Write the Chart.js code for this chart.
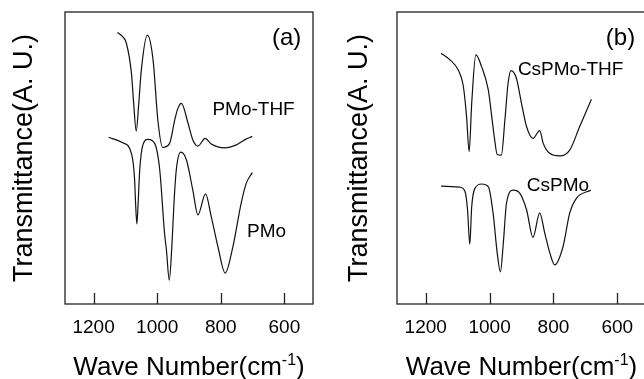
<!DOCTYPE html>
<html>
<head>
<meta charset="utf-8">
<script src="https://cdn.jsdelivr.net/npm/chart.js@4.4.1/dist/chart.umd.min.js"></script>
<style>
  html, body { margin: 0; padding: 0; background: #fff; overflow: hidden; }
  body { width: 644px; height: 379px; position: relative; }
  canvas { position: absolute; top: 0; }
</style>
</head>
<body>
<canvas id="panelA" width="330" height="379" style="left:0"></canvas>
<canvas id="panelB" width="330" height="379" style="left:330px"></canvas>
<script>
const waveTicks = [1200, 1000, 800, 600];

// (a) PMo-THF, upper trace
const pmoThfWave = [1125, 1108, 1097, 1081, 1074, 1066, 1058, 1050, 1031, 1013, 998, 983, 961, 945, 935, 924, 903, 888, 872, 849, 830, 788, 751, 725, 701];
const pmoThfT = [93.0, 91.5, 89.3, 79.0, 68.7, 59.2, 68.7, 80.1, 92.1, 83.6, 63.0, 53.6, 55.0, 63.0, 67.0, 68.7, 61.9, 56.2, 54.1, 56.7, 54.8, 53.5, 54.5, 56.2, 57.4];

// (a) PMo, lower trace
const pmoWave = [1153, 1108, 1081, 1071, 1068, 1064, 1060, 1055, 1045, 1029, 1008, 992, 977, 971, 962, 954, 947, 940, 926, 908, 888, 872, 848, 830, 809, 786, 762, 736, 720, 701];
const pmoT = [57.1, 55.2, 51.6, 42.5, 34.5, 27.4, 34.5, 45.9, 54.5, 56.4, 55.0, 45.9, 24.3, 18.5, 8.2, 19.6, 35.0, 45.9, 52.0, 49.3, 39.0, 30.5, 37.7, 29.9, 19.6, 10.6, 19.6, 34.5, 41.3, 45.0];

// (b) CsPMo-THF, upper trace
const csThfWave = [1152, 1124, 1098, 1082, 1072, 1064, 1056, 1043, 1025, 1004, 993, 985, 976, 963, 952, 942, 933, 916, 900, 884, 864, 843, 832, 812, 780, 749, 718, 681];
const csThfT = [85.9, 83.6, 80.1, 74.4, 64.1, 52.2, 68.7, 85.3, 81.3, 73.3, 64.0, 57.0, 51.2, 51.0, 63.0, 75.6, 79.9, 77.3, 68.7, 60.7, 56.7, 59.4, 55.0, 51.6, 50.7, 52.7, 60.7, 70.1];

// (b) CsPMo, lower trace
const csWave = [1152, 1093, 1077, 1069, 1062, 1056, 1046, 1025, 1004, 989, 976, 966, 957, 947, 926, 905, 884, 864, 843, 827, 811, 796, 770, 749, 728, 683];
const csT = [40.4, 40.0, 38.5, 32.2, 20.5, 33.3, 39.6, 41.1, 40.2, 31.1, 17.4, 11.0, 20.8, 34.5, 39.0, 37.9, 32.2, 22.8, 31.2, 24.2, 17.4, 13.4, 19.6, 31.1, 36.2, 39.0];

const fontFamily = '"Liberation Sans", Arial, Helvetica, sans-serif';
const ink = '#111';

// frame with inward ticks, curve names and the x title with its superscript
const panelDecor = {
  id: 'panelDecor',
  afterDraw(chart) {
    const ctx = chart.ctx;
    const area = chart.chartArea;
    const xs = chart.scales.x, ys = chart.scales.y;
    ctx.save();
    ctx.strokeStyle = '#222';
    ctx.lineWidth = 1.3;
    ctx.strokeRect(area.left, area.top, area.right - area.left, area.bottom - area.top);
    ctx.beginPath();
    xs.ticks.forEach(tk => {
      const px = Math.round(xs.getPixelForValue(tk.value)) + 0.5;
      ctx.moveTo(px, area.bottom);
      ctx.lineTo(px, area.bottom - 11);
    });
    ctx.stroke();

    ctx.fillStyle = '#000';
    ctx.textAlign = 'center';
    ctx.textBaseline = 'middle';
    chart.options.plugins.panelDecor.tags.forEach(t => {
      ctx.font = t.size + 'px ' + fontFamily;
      ctx.fillText(t.text, xs.getPixelForValue(t.wave), ys.getPixelForValue(t.t));
    });

    // Wave Number(cm^-1)
    const main = 'Wave Number(cm', sup = '-1', close = ')';
    const big = '26px ' + fontFamily, small = '16px ' + fontFamily;
    ctx.font = big;
    const w1 = ctx.measureText(main).width, w3 = ctx.measureText(close).width;
    ctx.font = small;
    const w2 = ctx.measureText(sup).width;
    let x = (area.left + area.right) / 2 - (w1 + w2 + w3) / 2;
    const base = 375;
    ctx.textAlign = 'left';
    ctx.textBaseline = 'alphabetic';
    ctx.font = big;
    ctx.fillText(main, x, base);
    x += w1;
    ctx.font = small;
    ctx.fillText(sup, x, base - 10);
    x += w2;
    ctx.font = big;
    ctx.fillText(close, x, base);
    ctx.restore();
  }
};

function makePanel(id, series, tags, axisWidth, padRight, titlePad) {
  return new Chart(document.getElementById(id), {
    type: 'line',
    data: {
      datasets: series.map(s => ({
        data: s.wave.map((w, i) => ({x: w, y: s.t[i]})),
        borderColor: ink,
        borderWidth: 1.2,
        pointRadius: 0,
        fill: false,
        cubicInterpolationMode: 'monotone'
      }))
    },
    options: {
      responsive: false,
      animation: false,
      events: [],
      layout: {padding: {top: 12, right: padRight, left: 0, bottom: 0}},
      plugins: {
        legend: {display: false},
        tooltip: {enabled: false},
        panelDecor: {tags: tags}
      },
      scales: {
        x: {
          type: 'linear',
          reverse: true,
          min: 510,
          max: 1290,
          afterBuildTicks: s => { s.ticks = waveTicks.map(v => ({value: v})); },
          afterFit: s => { s.height = 75; },
          border: {display: false},
          grid: {display: false, drawTicks: false},
          ticks: {
            color: '#000',
            font: {family: fontFamily, size: 19},
            padding: 12,
            maxRotation: 0,
            callback: v => String(v)
          }
        },
        y: {
          min: 0,
          max: 100,
          afterFit: s => { s.width = axisWidth; },
          border: {display: false},
          grid: {display: false},
          ticks: {display: false},
          title: {
            display: true,
            text: 'Transmittance(A. U.)',
            color: '#000',
            font: {family: fontFamily, size: 27},
            padding: {top: titlePad, bottom: 0}
          }
        }
      }
    },
    plugins: [panelDecor]
  });
}

makePanel('panelA',
  [{wave: pmoThfWave, t: pmoThfT}, {wave: pmoWave, t: pmoT}],
  [{text: '(a)', wave: 593, t: 91.1, size: 24},
   {text: 'PMo-THF', wave: 697, t: 66.4, size: 19},
   {text: 'PMo', wave: 656, t: 24.7, size: 19}],
  65, 17, 8);

makePanel('panelB',
  [{wave: csThfWave, t: csThfT}, {wave: csWave, t: csT}],
  [{text: '(b)', wave: 590, t: 91.1, size: 24},
   {text: 'CsPMo-THF', wave: 746, t: 80.1, size: 19},
   {text: 'CsPMo', wave: 786, t: 40.4, size: 19}],
  67, 14, 13);
</script>
</body>
</html>
